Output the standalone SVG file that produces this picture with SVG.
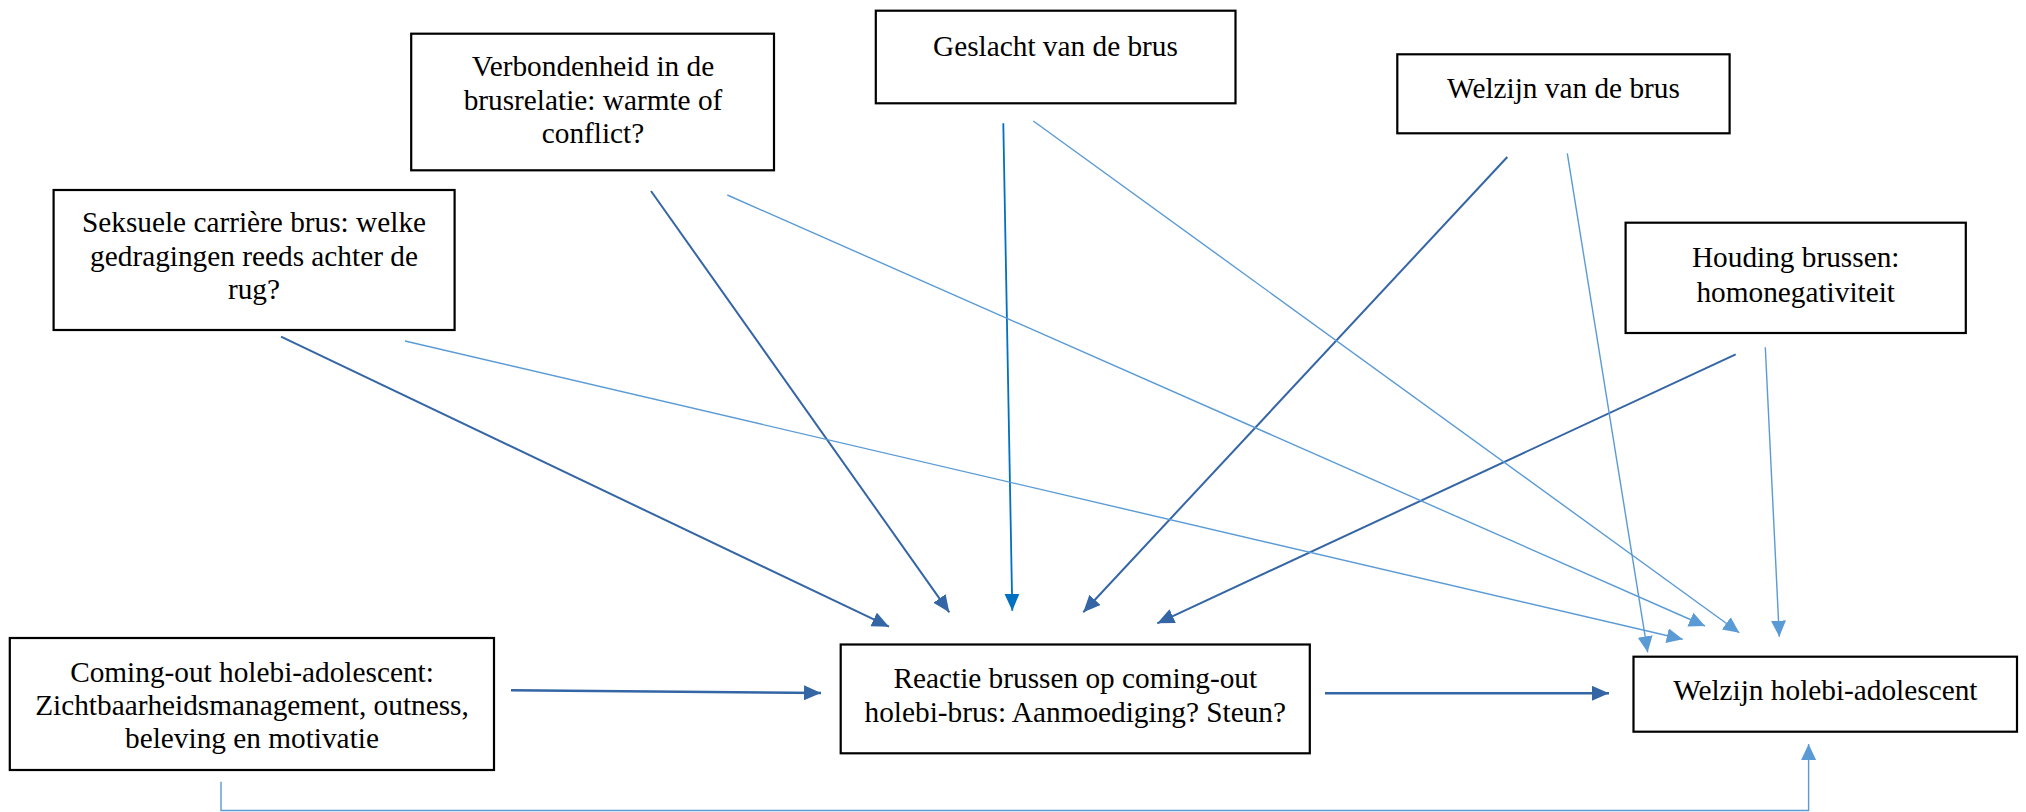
<svg xmlns="http://www.w3.org/2000/svg" width="2026" height="812" viewBox="0 0 2026 812">
<style>
.box{fill:#fff;stroke:#000;stroke-width:2.2}
.t{font-family:"Liberation Serif","Times New Roman",serif;font-size:29.3px;fill:#000;text-anchor:middle}
.dk{stroke:#3465A4;stroke-width:2;fill:none}
.dkw{stroke:#3465A4;stroke-width:2.6;fill:none}
.md{stroke:#0070C0;stroke-width:1.8;fill:none}
.lt{stroke:#5B9BD5;stroke-width:1.4;fill:none}
</style>
<defs>
<marker id="aDk" markerUnits="userSpaceOnUse" markerWidth="18" markerHeight="16" refX="17" refY="7.5" orient="auto"><path d="M0,0 L17,7.5 L0,15 z" fill="#3465A4"/></marker>
<marker id="aMd" markerUnits="userSpaceOnUse" markerWidth="18" markerHeight="16" refX="17" refY="7.5" orient="auto"><path d="M0,0 L17,7.5 L0,15 z" fill="#0070C0"/></marker>
<marker id="aLt" markerUnits="userSpaceOnUse" markerWidth="18" markerHeight="16" refX="16" refY="7.5" orient="auto"><path d="M0,0 L16,7.5 L0,15 z" fill="#5B9BD5"/></marker>
</defs>
<rect width="2026" height="812" fill="#fff"/>
<g id="connectors">
<line class="dk" x1="281" y1="336.7" x2="889" y2="626.7" marker-end="url(#aDk)"/>
<line class="dk" x1="651" y1="191" x2="949.3" y2="612.3" marker-end="url(#aDk)"/>
<line class="md" x1="1003.3" y1="123.3" x2="1012.3" y2="610.7" marker-end="url(#aMd)"/>
<line class="dk" x1="1507.3" y1="157" x2="1083.3" y2="612.3" marker-end="url(#aDk)"/>
<line class="dk" x1="1735.7" y1="354.3" x2="1157.3" y2="623.3" marker-end="url(#aDk)"/>
<line class="dkw" x1="511" y1="690.3" x2="821" y2="693" marker-end="url(#aDk)"/>
<line class="dkw" x1="1325" y1="693.3" x2="1609" y2="693.3" marker-end="url(#aDk)"/>
<line class="lt" x1="405" y1="341" x2="1682.7" y2="639.3" marker-end="url(#aLt)"/>
<line class="lt" x1="727.3" y1="195" x2="1705" y2="626" marker-end="url(#aLt)"/>
<line class="lt" x1="1033.3" y1="121" x2="1739.3" y2="632.7" marker-end="url(#aLt)"/>
<line class="lt" x1="1567.3" y1="153.3" x2="1647.7" y2="652.3" marker-end="url(#aLt)"/>
<line class="lt" x1="1765.3" y1="347.3" x2="1779.3" y2="636.7" marker-end="url(#aLt)"/>
<polyline class="lt" points="221,781.7 221,810.5 1808.6,810.5 1808.6,744" marker-end="url(#aLt)"/>
</g>
<g id="n-verbondenheid">
<rect class="box" x="411.2" y="33.7" width="362.8" height="136.6"/>
<text class="t" x="593" y="76">Verbondenheid in de</text>
<text class="t" x="593" y="109.5">brusrelatie: warmte of</text>
<text class="t" x="593" y="143.3">conflict?</text>
</g>
<g id="n-seksuele">
<rect class="box" x="53.6" y="190" width="401" height="140"/>
<text class="t" x="254" y="232.3">Seksuele carrière brus: welke</text>
<text class="t" x="254" y="265.7">gedragingen reeds achter de</text>
<text class="t" x="254" y="299">rug?</text>
</g>
<g id="n-geslacht">
<rect class="box" x="875.8" y="10.7" width="359.7" height="92.6"/>
<text class="t" x="1055.5" y="56">Geslacht van de brus</text>
</g>
<g id="n-welzijnbrus">
<rect class="box" x="1397.3" y="54.3" width="332.3" height="79"/>
<text class="t" x="1563.5" y="98.3">Welzijn van de brus</text>
</g>
<g id="n-houding">
<rect class="box" x="1625.6" y="222.7" width="340.2" height="110.3"/>
<text class="t" x="1795.7" y="266.7">Houding brussen:</text>
<text class="t" x="1795.7" y="301.5">homonegativiteit</text>
</g>
<g id="n-comingout">
<rect class="box" x="9.8" y="638" width="484.2" height="132"/>
<text class="t" x="252" y="681.7">Coming-out holebi-adolescent:</text>
<text class="t" x="252" y="715">Zichtbaarheidsmanagement, outness,</text>
<text class="t" x="252" y="748.3">beleving en motivatie</text>
</g>
<g id="n-reactie">
<rect class="box" x="840.7" y="644.5" width="469.1" height="108.8"/>
<text class="t" x="1075.3" y="688.3">Reactie brussen op coming-out</text>
<text class="t" x="1075.3" y="721.7">holebi-brus: Aanmoediging? Steun?</text>
</g>
<g id="n-welzijnholebi">
<rect class="box" x="1633.5" y="656.7" width="383.5" height="75"/>
<text class="t" x="1825.3" y="700">Welzijn holebi-adolescent</text>
</g>
</svg>
